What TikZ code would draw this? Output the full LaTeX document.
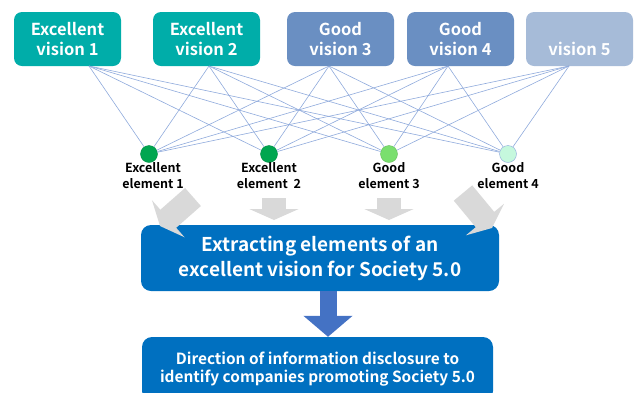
\documentclass[tikz,border=0pt]{standalone}
\usepackage{fontspec}
\setmainfont{Noto Sans CJK JP}[BoldFont={Noto Sans CJK JP Bold}]
\usetikzlibrary{positioning,arrows.meta}

\definecolor{excel}{HTML}{00ADA9}
\definecolor{good}{HTML}{6A8FC2}
\definecolor{pale}{HTML}{A6BBD8}
\definecolor{linkc}{HTML}{8FAADC}
\definecolor{deepblue}{HTML}{0070C0}
\definecolor{downc}{HTML}{4472C4}
\definecolor{greyfill}{HTML}{D9D9D9}
\definecolor{gA}{HTML}{00A650}
\definecolor{gB}{HTML}{7ADF6E}
\definecolor{gC}{HTML}{C5F8DD}

\tikzset{
  vision/.style={rounded corners=8pt, minimum width=107pt, minimum height=54pt,
    align=center, text=white, font=\bfseries\fontsize{16.5}{20}\selectfont},
  dot/.style={circle, minimum size=17pt, inner sep=0pt, fill=#1, draw=#1!85!black},
  elabel/.style={align=center, inner sep=0pt, font=\bfseries\fontsize{12.5}{15.5}\selectfont},
  link/.style={linkc, line width=0.6pt},
  greyarrow/.style={greyfill, line width=24pt, -{Triangle[width=49pt,length=11pt]}},
  bigbox/.style={rounded corners=10pt, fill=deepblue, text=white, align=center},
  downarrow/.style={downc, line width=17pt, -{Triangle[width=48pt,length=21pt]}}
}

\begin{document}
\begin{tikzpicture}[x=1pt,y=-1pt]
\useasboundingbox (0,0) rectangle (638,392);

% visions
\node[vision, fill=excel] (v1) at (67.5,39) {Excellent\\vision 1};
\node[vision, fill=excel] (v2) at (206.5,39) {Excellent\\vision 2};
\node[vision, fill=good] (v3) at (340.5,39) {Good\\vision 3};
\node[vision, fill=good] (v4) at (460.5,39) {Good\\vision 4};
\node[vision, fill=pale] (v5) at (579.5,39) {\phantom{Good}\\vision 5};

\coordinate (s1) at (89,66);
\coordinate (s2) at (209,66);
\coordinate (s3) at (329,66);
\coordinate (s4) at (448,66);
\coordinate (s5) at (569,66);

% elements
\node[dot=gA] (e1) at (149,154) {};
\node[dot=gA] (e2) at (269,154) {};
\node[dot=gB] (e3) at (389,154) {};
\node[dot=gC, draw=linkc] (e4) at (508,154) {};

\foreach \i in {1,...,5}
  {\foreach \j in {1,...,4}
    {\draw[link] (s\i) -- (e\j);}}

\node[elabel, below=0pt of e1, xshift=4pt] (l1) {Excellent\\element 1};
\node[elabel, below=0pt of e2] (l2) {Excellent\\element\ \ 2};
\node[elabel, below=0pt of e3] (l3) {Good\\element 3};
\node[elabel, below=0pt of e4] (l4) {Good\\element 4};

% main boxes
\node[bigbox, minimum width=358pt, minimum height=66pt,
  font=\bfseries\fontsize{19}{25}\selectfont] (extract) at (320,258)
  {Extracting elements of an\\excellent vision for Society 5.0};
\node[bigbox, minimum width=351pt, minimum height=64pt,
  font=\bfseries\fontsize{15.4}{18}\selectfont] (direction) at (317.5,369)
  {Direction of information disclosure to\\identify companies promoting Society 5.0};

% grey arrows into the box
\coordinate (g1) at (193,197);
\coordinate (g2) at (274,198);
\coordinate (g3) at (389,198);
\coordinate (g4) at (463,193);
\draw[greyarrow] (g1) -- (160,226);
\draw[greyarrow] (g2) -- (274,220);
\draw[greyarrow] (g3) -- (389,220);
\draw[greyarrow] (g4) -- (492,228);

\draw[downarrow] ([xshift=8pt]extract.south) -- ([xshift=10.5pt]direction.north);
\end{tikzpicture}
\end{document}
